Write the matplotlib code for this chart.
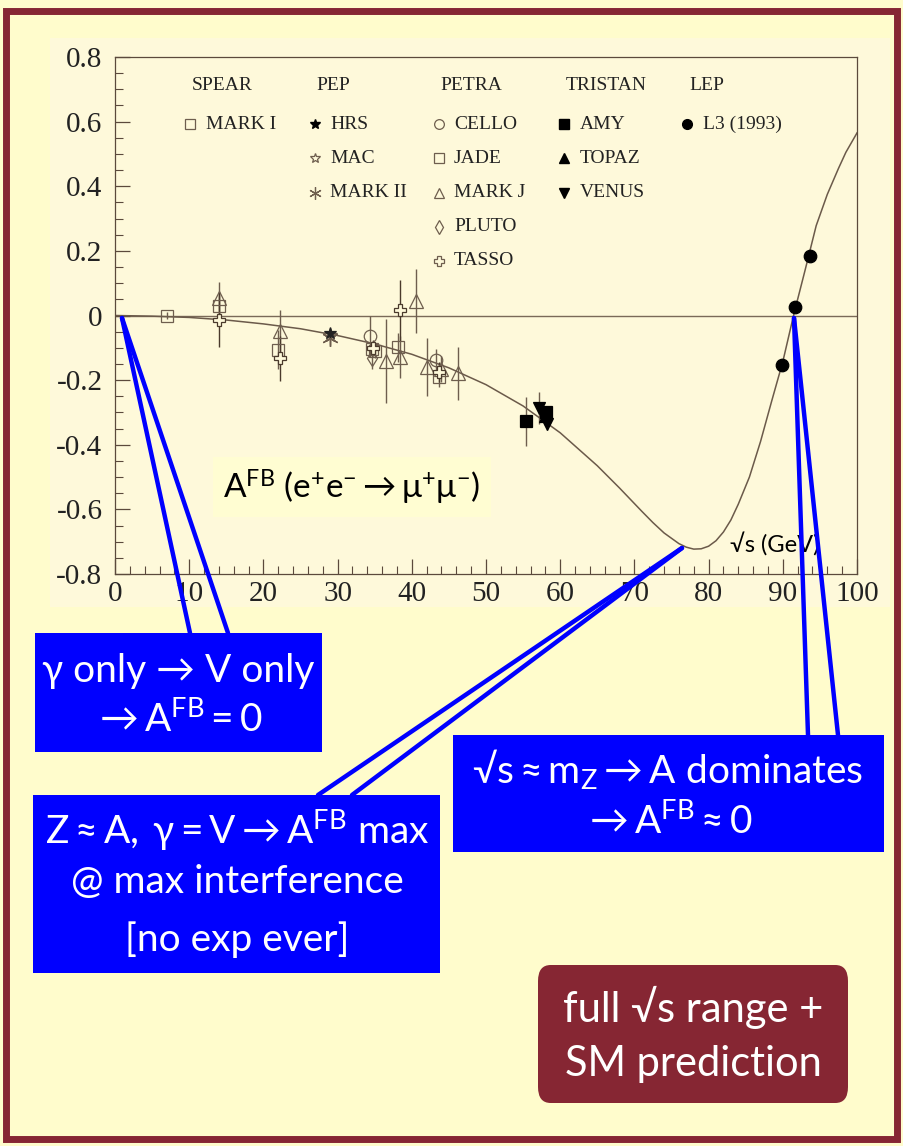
"""
A_FB(e+e- -> mu+mu-) vs sqrt(s), with slide annotations
"""
import matplotlib
matplotlib.use('Agg')
import matplotlib.pyplot as plt
from matplotlib.patches import Rectangle, FancyBboxPatch
from matplotlib.lines import Line2D
from matplotlib.ticker import MultipleLocator, FuncFormatter

plt.rcParams['font.family'] = ['Liberation Serif', 'DejaVu Serif']
plt.rcParams['mathtext.fontset'] = 'custom'
plt.rcParams['mathtext.rm'] = 'Lato'
plt.rcParams['mathtext.it'] = 'Lato:italic'
plt.rcParams['mathtext.bf'] = 'Lato:bold'
plt.rcParams['mathtext.fallback'] = 'stixsans'
plt.rcParams['axes.unicode_minus'] = False

# ===== SM prediction =====
sm_x = [0, 5, 10, 15, 20, 25, 30, 35, 40, 45, 50, 55, 60, 65, 68, 71, 72.5, 74,
        76, 77, 78, 79, 80, 81, 82, 83, 84, 85.5, 87, 88.5, 90, 91.5, 93, 94.5,
        96, 97.5, 98.5, 100]
sm_y = [0, -0.002, -0.006, -0.014, -0.026, -0.041, -0.062, -0.088, -0.120,
        -0.162, -0.214, -0.280, -0.363, -0.465, -0.534, -0.606, -0.641, -0.673,
        -0.706, -0.717, -0.723, -0.722, -0.714, -0.697, -0.670, -0.633, -0.584,
        -0.500, -0.390, -0.265, -0.143, 0.005, 0.140, 0.278, 0.375, 0.455,
        0.505, 0.565]

# ===== measurements =====
markI_x, markI_y, markI_err = [7.0], [0.0], [0.01]
hrs_x, hrs_y, hrs_err = [29.0], [-0.055], [0.015]
mac_x, mac_y, mac_err = [29.0], [-0.06], [0.015]
markII_x, markII_y, markII_err = [29.0], [-0.07], [0.02]
cello_x = [34.3, 43.2]
cello_y = [-0.064, -0.138]
cello_err = [0.064, 0.035]
jade_x = [14.0, 22.0, 34.6, 35.0, 38.1, 43.7]
jade_y = [0.03, -0.106, -0.105, -0.11, -0.098, -0.19]
jade_err = [0.04, 0.06, 0.02, 0.02, 0.045, 0.03]
markJ_x = [14.0, 22.3, 36.5, 38.4, 40.5, 42.1, 43.9, 46.2]
markJ_y = [0.055, -0.048, -0.141, -0.129, 0.045, -0.16, -0.165, -0.178]
markJ_err = [0.05, 0.065, 0.13, 0.065, 0.1, 0.09, 0.04, 0.082]
pluto_x, pluto_y, pluto_err = [34.7], [-0.13], [0.035]
tasso_x = [14.0, 22.3, 34.8, 38.4, 43.7]
tasso_y = [-0.013, -0.132, -0.10, 0.016, -0.175]
tasso_err = [0.085, 0.07, 0.025, 0.095, 0.03]
amy_x, amy_y, amy_err = [55.4, 58.1], [-0.328, -0.30], [0.075, 0.02]
topaz_x, topaz_y, topaz_err = [57.9], [-0.31], [0.03]
venus_x, venus_y, venus_err = [57.1, 58.2], [-0.286, -0.335], [0.05, 0.02]
l3_x, l3_y, l3_err = [89.9, 91.7, 93.6], [-0.152, 0.026, 0.185], [0.01, 0.01, 0.01]

W, H = 904, 1146
BG = '#FFFCCC'
PANEL = '#FEF9DA'
AXC = '#5b4a3c'
OPEN = '#6e5e4e'
BLUE = '#0000FF'
DARKRED = '#862633'


def fx(px):
    return px / W


def fy(py):
    return 1 - py / H


fig = plt.figure(figsize=(W / 100, H / 100), dpi=100, facecolor=BG)

# chart panel background
fig.add_artist(Rectangle((fx(50), fy(607)), (890 - 50) / W, (607 - 38) / H,
                         transform=fig.transFigure, facecolor=PANEL,
                         edgecolor='none', zorder=-5))
# slide border
fig.add_artist(Rectangle((fx(6), fy(1139)), (897 - 6) / W, (1139 - 11) / H,
                         transform=fig.transFigure, facecolor='none',
                         edgecolor=DARKRED, linewidth=5, zorder=20))

ax = fig.add_axes([fx(115), fy(574), (857 - 115) / W, (574 - 57) / H])
ax.set_facecolor(PANEL)
ax.set_xlim(0, 100)
ax.set_ylim(-0.8, 0.8)
for sp in ax.spines.values():
    sp.set_color(AXC)
    sp.set_linewidth(0.9)
ax.xaxis.set_major_locator(MultipleLocator(10))
ax.xaxis.set_minor_locator(MultipleLocator(2))
ax.yaxis.set_major_locator(MultipleLocator(0.2))
ax.yaxis.set_minor_locator(MultipleLocator(0.05))
ax.yaxis.set_major_formatter(FuncFormatter(lambda v, p: '0' if abs(v) < 1e-9 else f'{v:.1f}'))
ax.tick_params(which='both', direction='in', color=AXC, labelsize=21,
               labelcolor='#222222', top=False, right=False)
ax.tick_params(which='major', length=11, width=0.9)
ax.tick_params(which='minor', length=6, width=0.8)
ax.tick_params(axis='y', pad=9)
ax.tick_params(axis='x', pad=5)

ax.axhline(0, color='#7a6a58', lw=1.0, zorder=1)
ax.plot(sm_x, sm_y, color='#6b5a4a', lw=1.1, zorder=2)

err_kw = dict(capsize=0, elinewidth=1.0, zorder=3, linestyle='none', mew=0.9)
ax.errorbar(markI_x, markI_y, yerr=markI_err, fmt='s', ms=9, mfc='none', mec=OPEN, ecolor=OPEN, **err_kw)
ax.errorbar(jade_x, jade_y, yerr=jade_err, fmt='s', ms=9, mfc='none', mec=OPEN, ecolor=OPEN, **err_kw)
ax.errorbar(markJ_x, markJ_y, yerr=markJ_err, fmt='^', ms=10, mfc='none', mec=OPEN, ecolor=OPEN, **err_kw)
ax.errorbar(cello_x, cello_y, yerr=cello_err, fmt='o', ms=9, mfc='none', mec=OPEN, ecolor=OPEN, **err_kw)
ax.errorbar(pluto_x, pluto_y, yerr=pluto_err, fmt='d', ms=8, mfc='none', mec=OPEN, ecolor=OPEN, **err_kw)
ax.errorbar(tasso_x, tasso_y, yerr=tasso_err, fmt='P', ms=9, mfc=PANEL, mec='#4a3a2c', ecolor='#4a3a2c', **err_kw)
ax.errorbar(mac_x, mac_y, yerr=mac_err, fmt='*', ms=10, mfc='none', mec=OPEN, ecolor=OPEN, **err_kw)
ax.errorbar(markII_x, markII_y, yerr=markII_err, fmt='none', ecolor=OPEN, capsize=0, elinewidth=1.0, zorder=3)
ax.plot(markII_x, markII_y, marker=(6, 2, 0), ms=12, color=OPEN, mew=1.0, ls='none', zorder=3)
ax.errorbar(hrs_x, hrs_y, yerr=hrs_err, fmt='*', ms=9, color='#222222', **err_kw)
ax.errorbar(amy_x, amy_y, yerr=amy_err, fmt='s', ms=9, color='black', ecolor=OPEN, **err_kw)
ax.errorbar(topaz_x, topaz_y, yerr=topaz_err, fmt='^', ms=8, color='black', ecolor=OPEN, **err_kw)
ax.errorbar(venus_x, venus_y, yerr=venus_err, fmt='v', ms=9, color='black', ecolor=OPEN, **err_kw)
ax.errorbar(l3_x, l3_y, yerr=l3_err, fmt='o', ms=9, color='black', ecolor=OPEN, **err_kw)

# ===== key (experiment names by machine) =====
key_cols = [
    (10.4, 'SPEAR', [('MARK I', 's', False)]),
    (27.2, 'PEP', [('HRS', '*', True), ('MAC', '*', False), ('MARK II', 'ast', False)]),
    (43.9, 'PETRA', [('CELLO', 'o', False), ('JADE', 's', False), ('MARK J', '^', False),
                     ('PLUTO', 'd', False), ('TASSO', 'P', False)]),
    (60.8, 'TRISTAN', [('AMY', 's', True), ('TOPAZ', '^', True), ('VENUS', 'v', True)]),
    (77.4, 'LEP', [('L3 (1993)', 'o', True)]),
]
head_y = 0.713
row_y = [0.592, 0.486, 0.380, 0.275, 0.169]
for cx, head, entries in key_cols:
    ax.text(cx, head_y, head, fontsize=14, ha='left', va='center', color='#222222')
    for i, (name, mk, filled) in enumerate(entries):
        mx = cx - 0.3
        if mk == 'ast':
            ax.plot(mx, row_y[i], marker=(6, 2, 0), ms=9, color=OPEN, mew=0.9)
        elif filled:
            ax.plot(mx, row_y[i], marker=mk, ms=7, color='black', ls='none')
        else:
            ax.plot(mx, row_y[i], marker=mk, ms=7, mfc='none', mec=OPEN, mew=0.9, ls='none')
        ax.text(mx + 2.1, row_y[i], name, fontsize=14, ha='left', va='center', color='#222222')

# ===== labels inside chart =====
fig.text(fx(352), fy(487), r'$\mathrm{A^{FB}\ (e^{+}e^{-} \rightarrow \mu^{+}\mu^{-})}$',
         fontsize=24, ha='center', va='center', color='black', zorder=4,
         bbox=dict(boxstyle='square,pad=0.3', facecolor='#FFFDD2', edgecolor='none'))
fig.text(fx(730), fy(545), '√s (GeV)', family=['Lato', 'DejaVu Sans'], fontsize=17,
         ha='left', va='center', color='black', zorder=4)

# ===== blue pointer lines =====
pointers = [
    ((122, 318), (190, 633)), ((122, 318), (228, 633)),
    ((682, 548), (318, 795)), ((682, 548), (352, 795)),
    ((794, 318), (808, 735)), ((794, 318), (838, 735)),
]
for (x0, y0), (x1, y1) in pointers:
    fig.add_artist(Line2D([fx(x0), fx(x1)], [fy(y0), fy(y1)], transform=fig.transFigure,
                          color=BLUE, lw=3.2, solid_capstyle='round', zorder=8))

# ===== annotation boxes =====
sans = ['Lato', 'DejaVu Sans']


def box(x0, y0, x1, y1, color, rounded=False):
    if rounded:
        p = FancyBboxPatch((fx(x0), fy(y1)), (x1 - x0) / W, (y1 - y0) / H,
                           boxstyle='round,pad=0,rounding_size=0.014',
                           transform=fig.transFigure, facecolor=color, edgecolor='none', zorder=9)
    else:
        p = Rectangle((fx(x0), fy(y1)), (x1 - x0) / W, (y1 - y0) / H,
                      transform=fig.transFigure, facecolor=color, edgecolor='none', zorder=9)
    fig.add_artist(p)


def line(x, y, s, size=28):
    fig.text(fx(x), fy(y), s, family=sans, fontsize=size, color='white',
             ha='center', va='center', zorder=10)


box(35, 633, 322, 752, BLUE)
line(178, 671, 'γ only → V only')
line(178, 719, r'$\mathrm{\rightarrow A^{FB} = 0}$')

box(33, 795, 440, 973, BLUE)
line(237, 830, r'$\mathrm{Z \approx A,\;\gamma = V \rightarrow A^{FB}\ max}$')
line(237, 882, '@ max interference')
line(237, 940, '[no exp ever]')

box(453, 735, 884, 852, BLUE)
line(668, 769, r'$\mathrm{√s \approx m_{Z} \rightarrow A\ dominates}$')
line(668, 821, r'$\mathrm{\rightarrow A^{FB} \approx 0}$')

box(538, 965, 848, 1103, DARKRED, rounded=True)
line(693, 1007, 'full √s range +', size=30)
line(693, 1064, 'SM prediction', size=30)

fig.savefig('out.png', dpi=100, facecolor=BG)
plt.close(fig)
